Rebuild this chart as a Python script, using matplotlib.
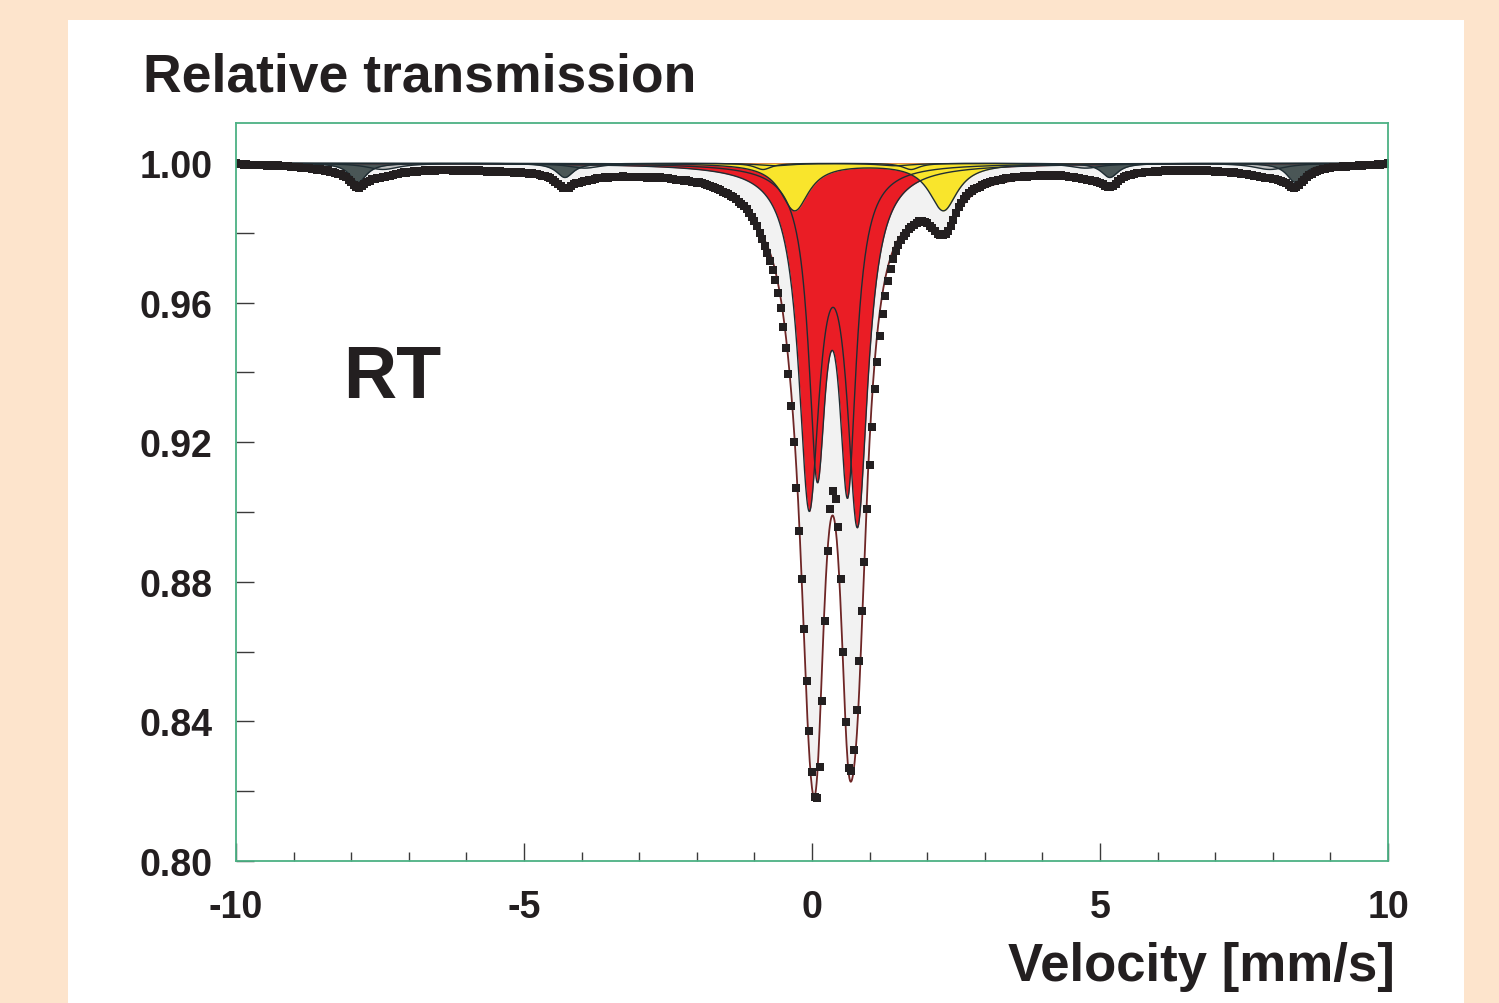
import numpy as np
import matplotlib
matplotlib.use("Agg")
import matplotlib.pyplot as plt
from matplotlib.patches import Rectangle

# measured spectrum: absorption (1 - transmission) in units of 1e-4, one value per channel
absorption_1e4 = [
    1, 3, 2, 4, 3, 5, 4, 6, 5, 4,
    6, 5, 7, 6, 8, 7, 6, 8, 9, 8,
    9, 11, 10, 12, 11, 13, 14, 13, 15, 17,
    17, 19, 18, 20, 22, 21, 24, 25, 27, 30,
    32, 36, 41, 48, 55, 63, 68, 70, 66, 60,
    55, 50, 46, 45, 42, 43, 40, 39, 37, 36,
    35, 31, 30, 29, 26, 27, 24, 25, 22, 24,
    22, 23, 20, 22, 21, 19, 22, 20, 21, 19,
    21, 19, 20, 22, 20, 21, 23, 20, 22, 21,
    20, 22, 23, 21, 23, 22, 24, 22, 24, 23,
    24, 23, 25, 24, 26, 24, 27, 25, 27, 26,
    28, 27, 30, 29, 32, 31, 34, 36, 38, 41,
    44, 48, 54, 60, 66, 71, 72, 70, 65, 61,
    57, 56, 53, 52, 50, 49, 47, 46, 44, 43,
    42, 41, 42, 40, 41, 39, 41, 40, 38, 40,
    39, 40, 39, 41, 40, 41, 40, 42, 41, 42,
    41, 42, 41, 43, 44, 43, 45, 46, 47, 47,
    48, 50, 49, 52, 53, 54, 56, 55, 58, 60,
    63, 66, 69, 71, 75, 78, 82, 86, 89, 93,
    98, 104, 110, 117, 124, 132, 142, 153, 165, 180,
    200, 218, 238, 258, 280, 306, 336, 372, 415, 470,
    530, 605, 695, 800, 930, 1054, 1192, 1335, 1483, 1628,
    1746, 1816, 1820, 1730, 1541, 1311, 1113, 991, 941, 963,
    1044, 1192, 1400, 1603, 1734, 1741, 1681, 1567, 1428, 1283,
    1144, 991, 865, 756, 646, 569, 495, 433, 380, 338,
    304, 275, 252, 234, 220, 208, 199, 190, 183, 176,
    171, 167, 166, 168, 172, 179, 186, 195, 202, 207,
    206, 203, 194, 180, 162, 143, 127, 114, 103, 94,
    86, 80, 75, 70, 67, 63, 60, 57, 55, 52,
    50, 49, 47, 46, 44, 43, 42, 41, 40, 39,
    40, 38, 39, 37, 38, 36, 37, 35, 36, 37,
    35, 36, 35, 36, 37, 35, 38, 37, 39, 40,
    41, 42, 44, 45, 46, 47, 49, 50, 52, 54,
    57, 61, 65, 68, 69, 66, 60, 52, 46, 41,
    38, 35, 33, 31, 29, 28, 27, 26, 25, 26,
    24, 23, 24, 22, 23, 21, 22, 23, 21, 22,
    20, 22, 21, 22, 20, 21, 23, 21, 22, 20,
    22, 21, 23, 22, 24, 23, 25, 24, 26, 25,
    27, 26, 28, 29, 30, 31, 32, 34, 35, 37,
    38, 40, 41, 42, 43, 44, 45, 46, 48, 50,
    53, 57, 62, 67, 70, 69, 63, 55, 47, 40,
    34, 30, 26, 23, 20, 18, 16, 15, 13, 12,
    12, 11, 10, 9, 10, 8, 9, 7, 8, 6,
    7, 6, 5, 6, 4, 5, 3, 4, 2, 3,
    1,
]

# fitted sub-spectra: line positions [mm/s], depths, half widths [mm/s]
red_outer_pos = [-0.05, 0.79]
red_outer_depth = [0.0935, 0.0985]
red_outer_hw = 0.22
red_inner_pos = [0.09, 0.62]
red_inner_depth = [0.0825, 0.0875]
red_inner_hw = 0.18
yellow_pos = [-0.30, 2.28]
yellow_depth = [0.0135, 0.0135]
yellow_hw = 0.30
dark_sextet_pos = [-7.88, -4.29, -0.85, 1.72, 5.17, 8.39]
dark_sextet_depth = [0.0055, 0.0041, 0.0018, 0.0018, 0.0041, 0.0055]
dark_sextet_hw = 0.18
light_sextet_pos = [-7.45, -3.95, -0.65, 1.45, 4.75, 7.95]
light_sextet_depth = [0.0018, 0.0014, 0.0007, 0.0007, 0.0014, 0.0018]
light_sextet_hw = 0.35
background_pos = [0.3]
background_depth = [0.003]
background_hw = 6.0


def absorption(v, pos, depth, hw):
    # sum of lorentzian lines
    a = np.zeros_like(v)
    for p, d in zip(pos, depth):
        a += d * hw**2 / (hw**2 + (v - p)**2)
    return a


velocity = np.linspace(-10, 10, len(absorption_1e4))
transmission = 1 - np.array(absorption_1e4) / 1e4

v = np.linspace(-10, 10, 2001)
red_outer = absorption(v, red_outer_pos, red_outer_depth, red_outer_hw)
red_inner = absorption(v, red_inner_pos, red_inner_depth, red_inner_hw)
yellow = absorption(v, yellow_pos, yellow_depth, yellow_hw)
dark = absorption(v, dark_sextet_pos, dark_sextet_depth, dark_sextet_hw)
light = absorption(v, light_sextet_pos, light_sextet_depth, light_sextet_hw)
bg = absorption(v, background_pos, background_depth, background_hw)
total = red_outer + red_inner + yellow + dark + light + bg

plt.rcParams['font.family'] = ['Liberation Sans', 'DejaVu Sans']
plt.rcParams['axes.unicode_minus'] = False
ink = '#231f20'

fig = plt.figure(figsize=(14.99, 10.04), dpi=100, facecolor='#fde4cc')
fig.patches.append(Rectangle((68 / 1499, 0), 1396 / 1499, 983 / 1004,
                             transform=fig.transFigure, facecolor='white',
                             edgecolor='none', zorder=-1))
ax = fig.add_axes([236 / 1499, 142 / 1004, 1152 / 1499, 738 / 1004])
ax.set_facecolor('white')

# filled sub-spectra
ax.fill_between(v, 1, 1 - total, color='#f2f2f2', lw=0, zorder=1)
ax.fill_between(v, 1, 1 - light, color='#bebebe', lw=0, zorder=2)
ax.fill_between(v, 1, 1 - dark, color='#4a5656', lw=0, zorder=3)
ax.fill_between(v, 1, 1 - red_outer, color='#ea1d25', lw=0, zorder=4)
ax.fill_between(v, 1, 1 - red_inner, color='#ea1d25', lw=0, zorder=4)
ax.fill_between(v, 1, 1 - yellow, color='#f9e52c', lw=0, zorder=5)
for comp in [light, dark, red_outer, red_inner, yellow]:
    ax.plot(v, 1 - comp, color='#1f2d33', lw=1.0, zorder=6)
ax.plot(v, 1 - total, color='#6e2626', lw=1.3, zorder=7)
ax.plot(velocity, transmission, 's', ms=5.2, color=ink, mew=0, zorder=8)

ax.set_xlim(-10, 10)
ax.set_ylim(0.80, 1.0115)
ax.set_xticks([-10, -5, 0, 5, 10])
ax.set_xticks(np.arange(-9, 10, 1), minor=True)
ax.set_yticks(np.arange(0.80, 1.001, 0.04))
ax.set_yticks(np.arange(0.82, 0.99, 0.04), minor=True)
ax.set_yticklabels(['%.2f' % t for t in np.arange(0.80, 1.001, 0.04)])
ax.tick_params(which='both', direction='in', color='#3a3a3a', width=1.0,
               labelsize=27, labelcolor=ink)
ax.tick_params(axis='x', which='major', length=13, pad=20.5)
ax.tick_params(axis='x', which='minor', length=6.5)
ax.tick_params(axis='y', which='both', length=13, pad=17)
for lab in ax.get_xticklabels() + ax.get_yticklabels():
    lab.set_fontweight('bold')
for s in ax.spines.values():
    s.set_color('#4cb184')
    s.set_linewidth(1.3)
    s.set_zorder(9)

fig.text(143 / 1499, 1 - 92 / 1004, 'Relative transmission', fontsize=38.5,
         fontweight='bold', color=ink, va='baseline', ha='left')
fig.text(343 / 1499, 1 - 398 / 1004, 'RT', fontsize=53, fontweight='bold',
         color=ink, va='baseline', ha='left')
fig.text(1395 / 1499, 1 - 981 / 1004, 'Velocity [mm/s]', fontsize=38,
         fontweight='bold', color=ink, va='baseline', ha='right')

fig.savefig('out.png', dpi=100, facecolor=fig.get_facecolor())
